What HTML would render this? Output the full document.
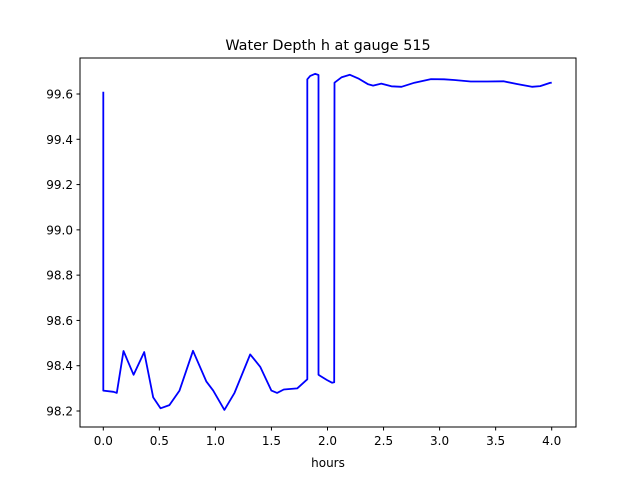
<!DOCTYPE html>
<html><head><meta charset="utf-8"><style>
body{margin:0;background:#fff}
svg{display:block;font-family:"DejaVu Sans","Liberation Sans",sans-serif}
</style></head><body>
<svg id="chart" width="640" height="480" viewBox="0 0 640 480">
<rect width="640" height="480" fill="#fff"/>
<text x="328" y="50" text-anchor="middle" font-size="14.4">Water Depth h at gauge 515</text>
<g id="xticks"></g>
<g id="yticks"></g>
<text x="328" y="467" text-anchor="middle" font-size="12">hours</text>
<path id="line" fill="none" stroke="#0000ff" stroke-width="1.8" stroke-linejoin="round"/>
<rect x="80" y="58" width="496" height="369" fill="none" stroke="#000" stroke-width="1"/>
</svg>
<script>
const times=[0,0,0.09,0.12,0.18,0.27,0.365,0.445,0.51,0.59,0.68,0.8,0.92,0.98,1.08,1.17,1.31,1.40,1.50,1.55,1.61,1.73,1.82,1.82,1.846,1.89,1.92,1.92,1.935,1.995,2.04,2.06,2.062,2.127,2.20,2.274,2.363,2.407,2.48,2.57,2.66,2.776,2.923,3.04,3.13,3.277,3.425,3.57,3.69,3.823,3.897,3.985,4.0];
const depths=[99.61,98.29,98.285,98.28,98.465,98.36,98.46,98.26,98.212,98.226,98.29,98.466,98.33,98.29,98.205,98.28,98.45,98.395,98.29,98.28,98.295,98.30,98.34,99.665,99.68,99.689,99.684,98.36,98.355,98.337,98.325,98.327,99.65,99.674,99.685,99.669,99.643,99.637,99.646,99.634,99.632,99.65,99.666,99.665,99.662,99.655,99.655,99.656,99.644,99.632,99.635,99.649,99.65];
const xTicks=[0,0.5,1.0,1.5,2.0,2.5,3.0,3.5,4.0];
const yTicks=[98.2,98.4,98.6,98.8,99.0,99.2,99.4,99.6];
const NS="http://www.w3.org/2000/svg";
function xs(t){return 103.3+(t-0)*(551.7-103.3)/4;}
function ys(h){return 411-(h-98.2)*(411-94)/1.4;}
const xg=document.getElementById('xticks'),yg=document.getElementById('yticks');
xTicks.forEach(t=>{
 const l=document.createElementNS(NS,'line');
 
 
 l.setAttribute('x1',xs(t));l.setAttribute('x2',xs(t));l.setAttribute('y1',427);l.setAttribute('y2',430.5);l.setAttribute('stroke','#000');
 xg.appendChild(l);
 const tx=document.createElementNS(NS,'text');
 
 
 tx.setAttribute('x',xs(t));tx.setAttribute('y',445);tx.setAttribute('text-anchor','middle');tx.setAttribute('font-size','12');
 tx.textContent=t.toFixed(1);xg.appendChild(tx);
});
yTicks.forEach(h=>{
 const l=document.createElementNS(NS,'line');
 
 
 l.setAttribute('x1',76.5);l.setAttribute('x2',80);l.setAttribute('y1',ys(h));l.setAttribute('y2',ys(h));l.setAttribute('stroke','#000');
 yg.appendChild(l);
 const tx=document.createElementNS(NS,'text');
 
 
 tx.setAttribute('x',73);tx.setAttribute('y',ys(h)+4.5);tx.setAttribute('text-anchor','end');tx.setAttribute('font-size','12');
 tx.textContent=h.toFixed(1);yg.appendChild(tx);
});
let d='';
times.forEach((t,i)=>{d+=(i?'L':'M')+xs(t).toFixed(1)+','+ys(depths[i]).toFixed(1);});
document.getElementById('line').setAttribute('d',d);
</script>
</body></html>
